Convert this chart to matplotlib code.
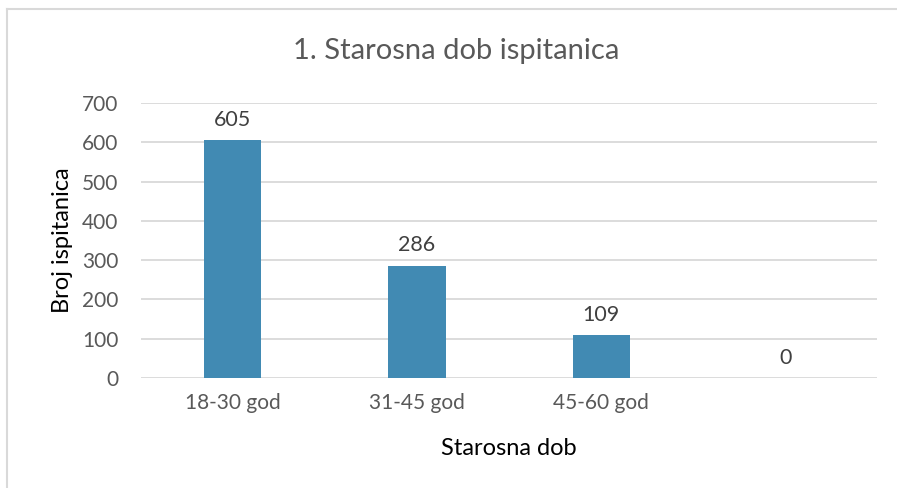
import numpy as np
import matplotlib.pyplot as plt
from matplotlib.lines import Line2D

plt.rcParams['font.family'] = ['Lato', 'DejaVu Sans']

categories = ['18-30 god', '31-45 god', '45-60 god', '']
counts = [605, 286, 109, 0]
yticks = [0, 100, 200, 300, 400, 500, 600, 700]

fig = plt.figure(figsize=(8.97, 4.88), dpi=100)
ax = fig.add_axes([0.157, 0.2254, 0.821, 0.5636])

x = np.arange(len(categories))
bars = ax.bar(x, counts, width=0.31, color='#418AB3', zorder=3)

for xi, v in zip(x, counts):
    ax.text(xi, v + 26, str(v), ha='center', va='bottom', fontsize=15.5, color='#404040')

ax.set_xlim(-0.5, len(categories) - 0.5)
ax.set_ylim(0, 700)
ax.set_yticks(yticks)
ax.set_xticks(x)
ax.set_xticklabels(categories)
ax.grid(axis='y', color='#D9D9D9', linewidth=1.3, zorder=0)
ax.set_axisbelow(True)
for s in ax.spines.values():
    s.set_visible(False)
ax.tick_params(axis='both', length=0, labelsize=15, labelcolor='#595959')
ax.tick_params(axis='y', pad=16)
ax.tick_params(axis='x', pad=11)

ax.set_ylabel('Broj ispitanica', fontsize=17, color='black', labelpad=7)
ax.set_xlabel('Starosna dob', fontsize=17, color='black', labelpad=18)
fig.text(0.509, 0.895, '1. Starosna dob ispitanica', ha='center', va='center',
         fontsize=21, color='#595959')

# chart frame (left and top edges visible)
fig.add_artist(Line2D([0.0078, 0.0078], [0.0, 0.982], transform=fig.transFigure,
                      color='#D9D9D9', linewidth=1.5))
fig.add_artist(Line2D([0.0078, 1.0], [0.982, 0.982], transform=fig.transFigure,
                      color='#D9D9D9', linewidth=1.5))

fig.savefig('out.png', dpi=100)
